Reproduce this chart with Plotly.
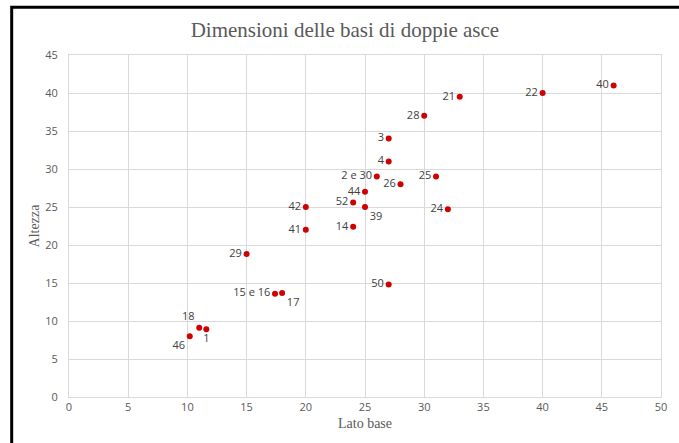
import plotly.graph_objects as go

# numero della doppia ascia, lato base, altezza
labels = ["40", "22", "21", "28", "3", "4", "2 e 30", "25", "26", "44", "52", "39",
          "42", "24", "41", "14", "29", "50", "15 e 16", "17", "18", "1", "46"]
lato_base = [46, 40, 33, 30, 27, 27, 26, 31, 28, 25, 24, 25,
             20, 32, 20, 24, 15, 27, 17.4, 18, 11, 11.6, 10.2]
altezza = [41, 40, 39.5, 37, 34, 31, 29, 29, 28, 27, 25.6, 25,
           25, 24.7, 22, 22.4, 18.8, 14.8, 13.6, 13.7, 9.1, 8.9, 8]

# dove mettere l'etichetta di ogni punto
label_pos = ["middle left"] * len(labels)
label_pos[labels.index("39")] = "bottom right"
label_pos[labels.index("17")] = "bottom right"
label_pos[labels.index("18")] = "top left"
label_pos[labels.index("1")] = "bottom center"
label_pos[labels.index("46")] = "bottom left"

grey = "#595959"
grid = "#d9d9d9"

fig = go.Figure(go.Scatter(
    x=lato_base, y=altezza, mode="markers+text",
    text=labels, textposition=label_pos,
    textfont=dict(family="Open Sans", size=11, color="#404040"),
    marker=dict(color="#d00000", size=6),
    hoverinfo="x+y+text",
))

fig.update_layout(
    width=679, height=443,
    margin=dict(l=69, r=16, t=55, b=46),
    paper_bgcolor="white", plot_bgcolor="white",
    showlegend=False,
    title=dict(text="Dimensioni delle basi di doppie asce",
               font=dict(family="Liberation Serif", size=21, color=grey),
               x=0.508, xanchor="center", y=0.932, yanchor="middle"),
    shapes=[dict(type="path", xref="paper", yref="paper",
                 path="M -0.0968 -0.2 L -0.0968 1.1398 L 1.1 1.1398",
                 line=dict(color="black", width=3))],
)

fig.update_xaxes(
    range=[0, 50], dtick=5, showgrid=True, gridcolor=grid, gridwidth=1,
    zeroline=False, showline=True, mirror=True, linecolor=grid,
    tickfont=dict(family="Open Sans", size=11, color=grey),
    title=dict(text="Lato base", font=dict(family="Liberation Serif", size=14, color=grey),
               standoff=4),
)
fig.update_yaxes(
    range=[0, 45], dtick=5, showgrid=True, gridcolor=grid, gridwidth=1,
    zeroline=False, showline=True, mirror=True, linecolor=grid,
    tickfont=dict(family="Open Sans", size=11, color=grey),
    ticklabelstandoff=8,
    title=dict(text="Altezza", font=dict(family="Liberation Serif", size=14, color=grey),
               standoff=2),
)

# niente margine della pagina, così il grafico parte dall'angolo
fig.write_html("out.html", config={"displayModeBar": False},
               post_script="document.body.style.margin='0px';")
